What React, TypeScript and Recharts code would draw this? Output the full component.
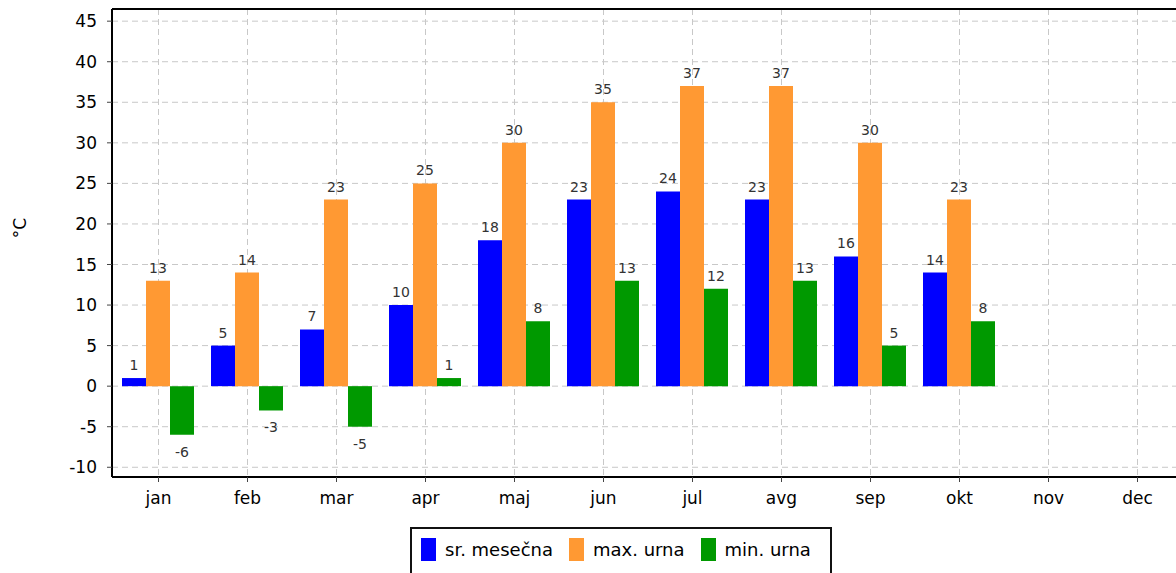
import {
  Bar,
  BarChart,
  CartesianGrid,
  LabelList,
  Legend,
  ReferenceLine,
  XAxis,
  YAxis,
} from "recharts";

const MONTHS = ["jan", "feb", "mar", "apr", "maj", "jun", "jul", "avg", "sep", "okt", "nov", "dec"];
const SR_MESECNA = [1, 5, 7, 10, 18, 23, 24, 23, 16, 14, null, null];
const MAX_URNA = [13, 14, 23, 25, 30, 35, 37, 37, 30, 23, null, null];
const MIN_URNA = [-6, -3, -5, 1, 8, 13, 12, 13, 5, 8, null, null];
const Y_TICKS = [-10, -5, 0, 5, 10, 15, 20, 25, 30, 35, 40, 45];
const Y_MIN = -11.2;
const Y_MAX = 46.5;

const SERIES = [
  { key: "sr", label: "sr. mesečna", color: "#0000ff" },
  { key: "max", label: "max. urna", color: "#ff9933" },
  { key: "min", label: "min. urna", color: "#009900" },
];

const data = MONTHS.map((m, i) => ({
  month: m,
  sr: SR_MESECNA[i],
  max: MAX_URNA[i],
  min: MIN_URNA[i],
}));

const FONT = "'DejaVu Sans', Verdana, sans-serif";

function ValueLabel(props: any) {
  const { x, y, width, height, value } = props;
  if (value == null) return null;
  const top = Math.min(y, y + height);
  const bottom = Math.max(y, y + height);
  const ty = value >= 0 ? top - 8 : bottom + 22;
  return (
    <text x={x + width / 2} y={ty} textAnchor="middle" fontSize={14} fill="#333" fontFamily={FONT}>
      {value}
    </text>
  );
}

function YUnitLabel(props: any) {
  const vb = props.viewBox || { x: 0, y: 0, height: 0 };
  const cx = vb.x + 20;
  const cy = vb.y + vb.height / 2 - 15;
  return (
    <text
      x={cx}
      y={cy}
      transform={`rotate(-90 ${cx} ${cy})`}
      textAnchor="middle"
      dominantBaseline="central"
      fontSize={17}
      fill="#000"
      fontFamily={FONT}
    >
      °C
    </text>
  );
}

function LegendBox() {
  return (
    <div
      style={{
        boxSizing: "border-box",
        width: 422,
        height: 52,
        border: "2px solid #111",
        background: "#fff",
        display: "flex",
        alignItems: "flex-start",
        paddingLeft: 9,
        paddingTop: 9,
        fontFamily: FONT,
        fontSize: 18,
        color: "#000",
      }}
    >
      {SERIES.map((s) => (
        <div key={s.key} style={{ display: "flex", alignItems: "center", marginRight: 16 }}>
          <span style={{ display: "inline-block", width: 15, height: 23, background: s.color, marginRight: 9 }} />
          <span style={{ lineHeight: "23px" }}>{s.label}</span>
        </div>
      ))}
    </div>
  );
}

export default function App() {
  return (
    <div style={{ position: "absolute", left: 0, top: 0, width: 1176, height: 573, overflow: "hidden", background: "#fff" }}>
      <BarChart
        width={1200}
        height={573}
        data={data}
        margin={{ top: 9, right: 16, left: 0, bottom: 56 }}
        barCategoryGap={8}
        barGap={0}
      >
        <CartesianGrid stroke="#c8c8c8" strokeDasharray="6 4" />
        <XAxis
          dataKey="month"
          height={40}
          padding={{ left: 2, right: 2 }}
          axisLine={{ stroke: "#000", strokeWidth: 2 }}
          tickLine={{ stroke: "#444" }}
          tickSize={5}
          tickMargin={10}
          tick={{ fontSize: 17, fill: "#000", fontFamily: FONT }}
          interval={0}
        />
        <YAxis
          width={112}
          domain={[Y_MIN, Y_MAX]}
          ticks={Y_TICKS}
          allowDataOverflow
          axisLine={{ stroke: "#000", strokeWidth: 2 }}
          tickLine={{ stroke: "#444" }}
          tickSize={5}
          tickMargin={10}
          tick={{ fontSize: 17, fill: "#000", fontFamily: FONT }}
          label={<YUnitLabel />}
        />
        <ReferenceLine y={Y_MAX} stroke="#000" strokeWidth={2} />
        <Legend
          layout="horizontal"
          verticalAlign="middle"
          align="center"
          content={<LegendBox />}
          wrapperStyle={{ position: "absolute", left: 410, top: 527, width: 422, height: 52 }}
        />
        {SERIES.map((s) => (
          <Bar key={s.key} dataKey={s.key} name={s.label} fill={s.color} isAnimationActive={false}>
            <LabelList dataKey={s.key} content={<ValueLabel />} />
          </Bar>
        ))}
      </BarChart>
    </div>
  );
}
